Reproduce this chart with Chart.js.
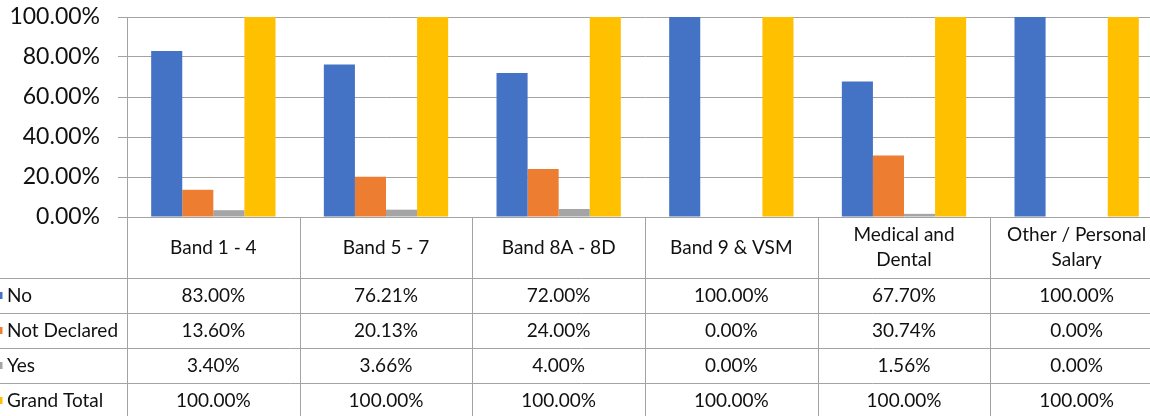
<!DOCTYPE html>
<html>
<head>
<meta charset="utf-8">
<script src="https://cdn.jsdelivr.net/npm/chart.js@4/dist/chart.umd.min.js"></script>
<style>
  html, body { margin: 0; padding: 0; background: #fff; overflow: hidden; }
  #wrap { position: relative; width: 1150px; height: 416px; overflow: hidden; }
  canvas { display: block; }
</style>
</head>
<body>
<div id="wrap"><canvas id="c" width="1163" height="416"></canvas></div>
<script>
// Categories (pay bands) – multi-line entries wrap in the table header
const categories = [
  'Band 1 - 4',
  'Band 5 - 7',
  'Band 8A - 8D',
  'Band 9 & VSM',
  ['Medical and', 'Dental'],
  ['Other / Personal', 'Salary']
];

// Percentages per band
const seriesNames = ['No', 'Not Declared', 'Yes', 'Grand Total'];
const noValues          = [83.00, 76.21, 72.00, 100.00, 67.70, 100.00];
const notDeclaredValues = [13.60, 20.13, 24.00, 0.00, 30.74, 0.00];
const yesValues         = [3.40, 3.66, 4.00, 0.00, 1.56, 0.00];
const grandTotalValues  = [100.00, 100.00, 100.00, 100.00, 100.00, 100.00];

// Y axis ticks
const yTicks = [0, 20, 40, 60, 80, 100];

const seriesColors = ['#4472C4', '#ED7D31', '#A5A5A5', '#FFC000'];
const seriesValues = [noValues, notDeclaredValues, yesValues, grandTotalValues];

const FONT = 'Lato, "Open Sans", sans-serif';
const LINE = '#a3a3a3';
const fmt = v => v.toFixed(2) + '%';

// Data table drawn beneath the plot, aligned to the category scale
const dataTable = {
  id: 'dataTable',
  afterDraw(chart) {
    const ctx = chart.ctx;
    const x = chart.scales.x;
    const area = chart.chartArea;
    const n = categories.length;
    const colW = (area.right - area.left) / n;
    const headerH = 61, rowH = 35;
    const top = area.bottom;
    const H = chart.height;

    ctx.save();
    ctx.strokeStyle = LINE;
    ctx.lineWidth = 1;

    // horizontal row separators
    for (let r = 0; r < seriesNames.length; r++) {
      const y = Math.round(top + headerH + r * rowH) + 0.5;
      ctx.beginPath();
      ctx.moveTo(0, y);
      ctx.lineTo(chart.width, y);
      ctx.stroke();
    }
    // vertical column separators
    for (let i = 0; i <= n; i++) {
      const xx = Math.round(area.left + i * colW) + 0.5;
      ctx.beginPath();
      ctx.moveTo(xx, top);
      ctx.lineTo(xx, H);
      ctx.stroke();
    }

    ctx.fillStyle = '#111';
    ctx.textBaseline = 'middle';
    ctx.textAlign = 'center';

    // header labels
    ctx.font = '19px ' + FONT;
    categories.forEach((lab, i) => {
      const cx = x.getPixelForValue(i);
      const lines = Array.isArray(lab) ? lab : [lab];
      const lh = 25;
      const cy = top + headerH / 2 - (lines.length - 1) * lh / 2;
      lines.forEach((ln, k) => ctx.fillText(ln, cx, cy + k * lh));
    });

    // series rows
    seriesNames.forEach((name, r) => {
      const cy = top + headerH + r * rowH + rowH / 2;
      // legend key
      ctx.fillStyle = seriesColors[r];
      ctx.fillRect(-5, cy - 3.5, 7.5, 7);
      ctx.fillStyle = '#111';
      ctx.textAlign = 'left';
      ctx.fillText(name, 7, cy);
      ctx.textAlign = 'center';
      seriesValues[r].forEach((v, i) => {
        ctx.fillText(fmt(v), x.getPixelForValue(i), cy);
      });
    });
    ctx.restore();
  }
};

new Chart(document.getElementById('c'), {
  type: 'bar',
  data: {
    labels: categories,
    datasets: seriesNames.map((name, k) => ({
      label: name,
      data: seriesValues[k],
      backgroundColor: seriesColors[k],
      borderWidth: 0,
      categoryPercentage: 0.72,
      barPercentage: 1
    }))
  },
  options: {
    responsive: false,
    animation: false,
    layout: { padding: { top: 17, bottom: 199, left: 0, right: 0 } },
    plugins: { legend: { display: false }, tooltip: { enabled: false } },
    scales: {
      x: { display: false },
      y: {
        min: 0,
        max: 100,
        afterBuildTicks(scale) { scale.ticks = yTicks.map(v => ({ value: v })); },
        afterFit(scale) {
          scale.width = 127;
          scale.paddingTop = 0;
          scale.paddingBottom = 0;
        },
        ticks: {
          padding: 18,
          color: '#111',
          font: { family: FONT, size: 23 },
          callback: v => fmt(v)
        },
        grid: { color: LINE, lineWidth: 1, tickLength: 9, drawTicks: true },
        border: { color: LINE, width: 1 }
      }
    }
  },
  plugins: [dataTable]
});
</script>
</body>
</html>
